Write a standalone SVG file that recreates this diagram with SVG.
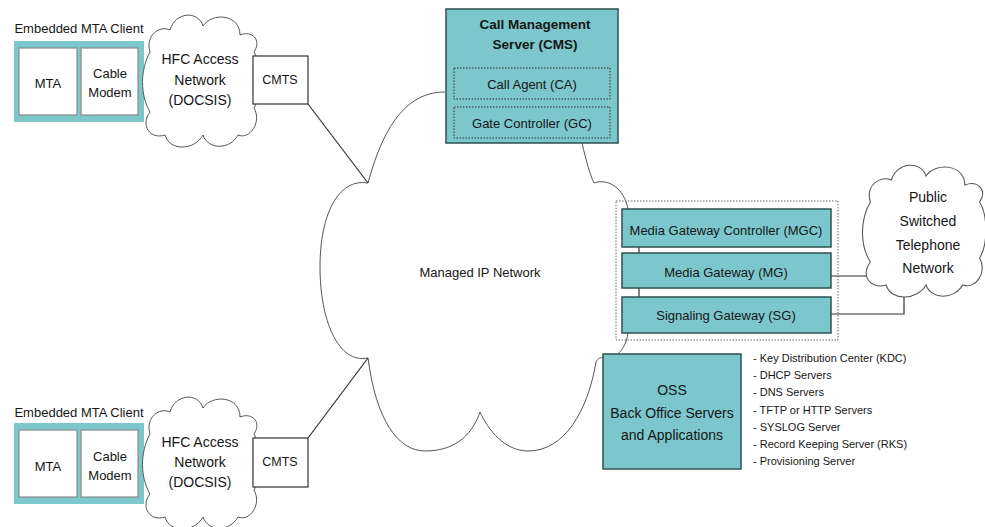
<svg xmlns="http://www.w3.org/2000/svg" width="985" height="527" viewBox="0 0 985 527">
<style>
text{font-family:"Liberation Sans",Arial,sans-serif;fill:#161616;text-anchor:middle;dominant-baseline:central}
.cloud{fill:#fff;stroke:#555;stroke-width:1}
.cedge{fill:none;stroke:#555;stroke-width:1}
.cl{fill:none;stroke:#333;stroke-width:1.2}
.teal{fill:#7bc7cc}
.inner{fill:#fff;stroke:#8a8a8a;stroke-width:1.2}
.tbox{fill:#7bc7cc;stroke:#2f5252;stroke-width:1.5}
.dash{fill:none;stroke:#333;stroke-width:1;stroke-dasharray:1.5 1.5}
.wbox{fill:#fff;stroke:#333;stroke-width:1.2}
.list{text-anchor:start;font-size:11px}
</style>
<defs>
<path id="cloudShape" d="M7,35 C2,18 17,8 27,13 C32,-5 55,-7 60,9 C69,-5 97,-3 97,18 C109,13 119,23 111,35 C119,48 119,78 111,91 C119,105 107,123 95,118 C87,133 65,133 60,118 C52,133 27,135 22,118 C7,123 -3,108 7,95 C-3,78 -3,53 7,35 Z"/>
</defs>

<g id="ip-network">
<path fill="#fff" stroke="none" d="M368,183 C385,120 410,92 445,92 L582,143 C586,160 590,175 594,183 C608,178 624,188 630,206 L630,333 C628,343 622,350 616,354 C605,356 598,357 596,362 C588,410 565,451 528,451 C505,451 488,430 480,412 C473,432 458,451 425,451 C398,451 376,420 368,358 C338,364 320,320 320,267 C320,215 338,178 368,183 Z"/>
<path class="cedge" d="M445,92 C410,92 385,120 368,183 C338,178 320,215 320,267 C320,320 338,364 368,358 C376,420 398,451 425,451 C458,451 473,432 480,412 C488,430 505,451 528,451 C565,451 588,410 596,362 C598,358 601,357 603,358"/>
<path class="cedge" d="M582,143 C586,160 590,175 594,183 C608,178 624,188 628,209"/>
<path class="cedge" d="M628,333 C627,343 622,350 618,354"/>
<text x="480" y="272" font-size="13">Managed IP Network</text>
</g>

<g id="connectors">
<line class="cl" x1="308" y1="104" x2="368" y2="183"/>
<line class="cl" x1="308" y1="438" x2="368" y2="358"/>
<line class="cl" x1="831" y1="276" x2="883" y2="276"/>
<polyline class="cl" points="831,314 904,314 904,297"/>
<line class="cl" x1="639" y1="247" x2="639" y2="253"/>
<line class="cl" x1="639" y1="288" x2="639" y2="297"/>
</g>

<g id="mta-client-top">
<text x="79" y="28" font-size="13">Embedded MTA Client</text>
<rect class="teal" x="14" y="41" width="130" height="81"/>
<rect class="inner" x="19" y="48" width="58" height="67"/>
<rect class="inner" x="81" y="48" width="57" height="67"/>
<text x="48" y="83" font-size="13">MTA</text>
<text x="110" y="73" font-size="13">Cable</text>
<text x="110" y="92" font-size="13">Modem</text>
</g>

<g id="hfc-top">
<use href="#cloudShape" class="cloud" transform="translate(143,17)"/>
<text x="200" y="59" font-size="14">HFC Access</text>
<text x="200" y="80" font-size="14">Network</text>
<text x="200" y="100" font-size="14">(DOCSIS)</text>
</g>

<g id="cmts-top">
<rect class="wbox" x="253" y="56" width="55" height="48"/>
<text x="280" y="80" font-size="12.5">CMTS</text>
</g>

<g id="mta-client-bottom">
<text x="79" y="412" font-size="13">Embedded MTA Client</text>
<rect class="teal" x="14" y="423" width="130" height="81"/>
<rect class="inner" x="19" y="430" width="58" height="67"/>
<rect class="inner" x="81" y="430" width="57" height="67"/>
<text x="48" y="466" font-size="13">MTA</text>
<text x="110" y="456" font-size="13">Cable</text>
<text x="110" y="475" font-size="13">Modem</text>
</g>

<g id="hfc-bottom">
<use href="#cloudShape" class="cloud" transform="translate(143,399)"/>
<text x="200" y="442" font-size="14">HFC Access</text>
<text x="200" y="462" font-size="14">Network</text>
<text x="200" y="482" font-size="14">(DOCSIS)</text>
</g>

<g id="cmts-bottom">
<rect class="wbox" x="253" y="438" width="55" height="49"/>
<text x="280" y="462" font-size="12.5">CMTS</text>
</g>

<g id="cms">
<rect class="tbox" x="446" y="9" width="172" height="134"/>
<text x="535" y="24" font-size="13.5" font-weight="bold">Call Management</text>
<text x="535" y="44" font-size="13.5" font-weight="bold">Server (CMS)</text>
<rect class="dash" x="454" y="68" width="156" height="31"/>
<text x="532" y="84" font-size="13">Call Agent (CA)</text>
<rect class="dash" x="454" y="107" width="156" height="31"/>
<text x="532" y="123" font-size="13">Gate Controller (GC)</text>
</g>

<g id="gateways">
<rect fill="none" stroke="#666" stroke-width="1" stroke-dasharray="1.5 1.5" x="616" y="201" width="222" height="139"/>
<g id="mgc">
<rect class="tbox" x="622" y="209" width="209" height="38"/>
<text x="726" y="230" font-size="13">Media Gateway Controller (MGC)</text>
</g>
<g id="mg">
<rect class="tbox" x="622" y="253" width="209" height="35"/>
<text x="726" y="272" font-size="13">Media Gateway (MG)</text>
</g>
<g id="sg">
<rect class="tbox" x="622" y="297" width="209" height="36"/>
<text x="726" y="315" font-size="13">Signaling Gateway (SG)</text>
</g>
</g>

<g id="pstn">
<use href="#cloudShape" class="cloud" transform="translate(863,167) scale(1.05,1)" style="vector-effect:non-scaling-stroke"/>
<text x="928" y="197" font-size="14">Public</text>
<text x="928" y="221" font-size="14">Switched</text>
<text x="928" y="245" font-size="14">Telephone</text>
<text x="928" y="268" font-size="14">Network</text>
</g>

<g id="oss">
<rect class="tbox" x="603" y="354" width="138" height="115"/>
<text x="672" y="390" font-size="14">OSS</text>
<text x="672" y="413" font-size="14">Back Office Servers</text>
<text x="672" y="435" font-size="14">and Applications</text>
</g>

<g id="oss-list">
<text class="list" x="753" y="358">- Key Distribution Center (KDC)</text>
<text class="list" x="753" y="375">- DHCP Servers</text>
<text class="list" x="753" y="392">- DNS Servers</text>
<text class="list" x="753" y="410">- TFTP or HTTP Servers</text>
<text class="list" x="753" y="427">- SYSLOG Server</text>
<text class="list" x="753" y="444">- Record Keeping Server (RKS)</text>
<text class="list" x="753" y="461">- Provisioning Server</text>
</g>
</svg>
